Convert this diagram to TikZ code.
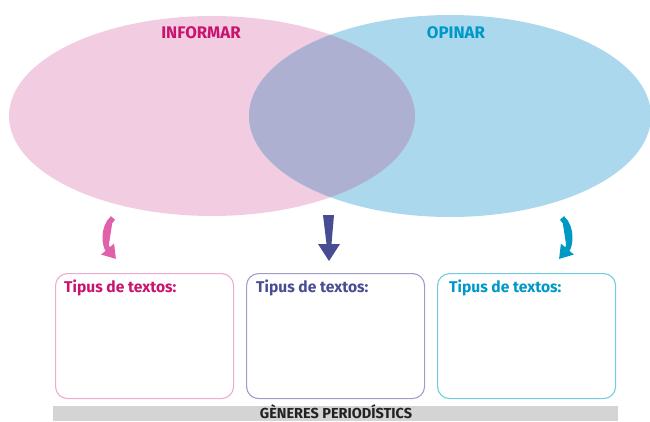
\documentclass[tikz,border=0pt]{standalone}
\usepackage{fontspec}
\setmainfont{Fira Sans}
\usetikzlibrary{arrows.meta}
\definecolor{pinkfill}{RGB}{242,205,226}
\definecolor{bluefill}{RGB}{171,216,236}
\definecolor{overfill}{RGB}{174,176,210}
\definecolor{informar}{RGB}{200,20,110}
\definecolor{opinar}{RGB}{0,152,200}
\definecolor{midtitle}{RGB}{72,76,146}
\definecolor{pinkarrow}{RGB}{224,96,170}
\definecolor{bluearrow}{RGB}{72,76,146}
\definecolor{cyanarrow}{RGB}{0,153,198}
\definecolor{pinkborder}{RGB}{240,170,206}
\definecolor{purpleborder}{RGB}{160,156,200}
\definecolor{cyanborder}{RGB}{112,204,224}
\definecolor{barfill}{RGB}{212,212,212}
\definecolor{bartext}{RGB}{34,34,34}
\tikzset{
  headlabel/.style={font=\fontsize{16.8}{19}\selectfont\bfseries, inner sep=0pt},
  boxstyle/.style={draw, line width=1.1pt, rounded corners=12pt, minimum width=178pt, minimum height=125pt, anchor=north west, inner sep=0pt},
  boxtitle/.style={font=\fontsize{15.6}{17}\selectfont\bfseries, anchor=west, inner sep=0pt},
  curvedarrow/.style={line width=5.5pt, -{Triangle[length=13pt,width=16pt]}},
}
\begin{document}
\begin{tikzpicture}[x=1pt,y=-1pt]
\useasboundingbox (0,0) rectangle (650,421);
\clip (0,0) rectangle (650,421);
% ellipses
\fill[pinkfill] (212,116) ellipse [x radius=203, y radius=100];
\fill[bluefill] (450,116) ellipse [x radius=201, y radius=101];
\begin{scope}
  \clip (212,116) ellipse [x radius=203, y radius=100];
  \fill[overfill] (450,116) ellipse [x radius=201, y radius=101];
\end{scope}
\node[headlabel, text=informar] (inf) at (201,33) {INFORMAR};
\node[headlabel, text=opinar] (opi) at (456,33) {OPINAR};
% boxes
\node[boxstyle, draw=pinkborder] (b1) at (55,273) {};
\node[boxstyle, draw=purpleborder] (b2) at (246,273) {};
\node[boxstyle, draw=cyanborder] (b3) at (437,273) {};
\node[boxtitle, text=informar] (t1) at ([xshift=9pt,yshift=-15pt]b1.north west) {Tipus de textos:};
\node[boxtitle, text=midtitle] (t2) at ([xshift=10pt,yshift=-15pt]b2.north west) {Tipus de textos:};
\node[boxtitle, text=opinar] (t3) at ([xshift=12pt,yshift=-15pt]b3.north west) {Tipus de textos:};
% arrows
\coordinate (a1s) at (113,218);
\coordinate (a1e) at (116,259);
\coordinate (a3s) at (562,218);
\coordinate (a3e) at (559,259);
\draw[curvedarrow, draw=pinkarrow, fill=pinkarrow] (a1s) .. controls (102,228) and (105,246) .. (a1e);
\draw[curvedarrow, draw=cyanarrow, fill=cyanarrow] (a3s) .. controls (573,228) and (570,246) .. (a3e);
\coordinate (a2) at (328.5,215);
\fill[bluearrow] ([xshift=-5.5pt]a2) -- ([xshift=5.5pt]a2) -- ++(-2.5,29) -- ++(8.5,0) -- (329,261) -- (318,244) -- (326.5,244) -- cycle;
% bottom bar
\node[fill=barfill, minimum width=565pt, minimum height=15pt, anchor=north west, inner sep=0pt] (bar) at (53,406) {};
\node[font=\fontsize{14.5}{16}\selectfont\bfseries, text=bartext, anchor=base, inner sep=0pt, text depth=0pt] (gen) at (336,418) {GÈNERES PERIODÍSTICS};
\end{tikzpicture}
\end{document}
